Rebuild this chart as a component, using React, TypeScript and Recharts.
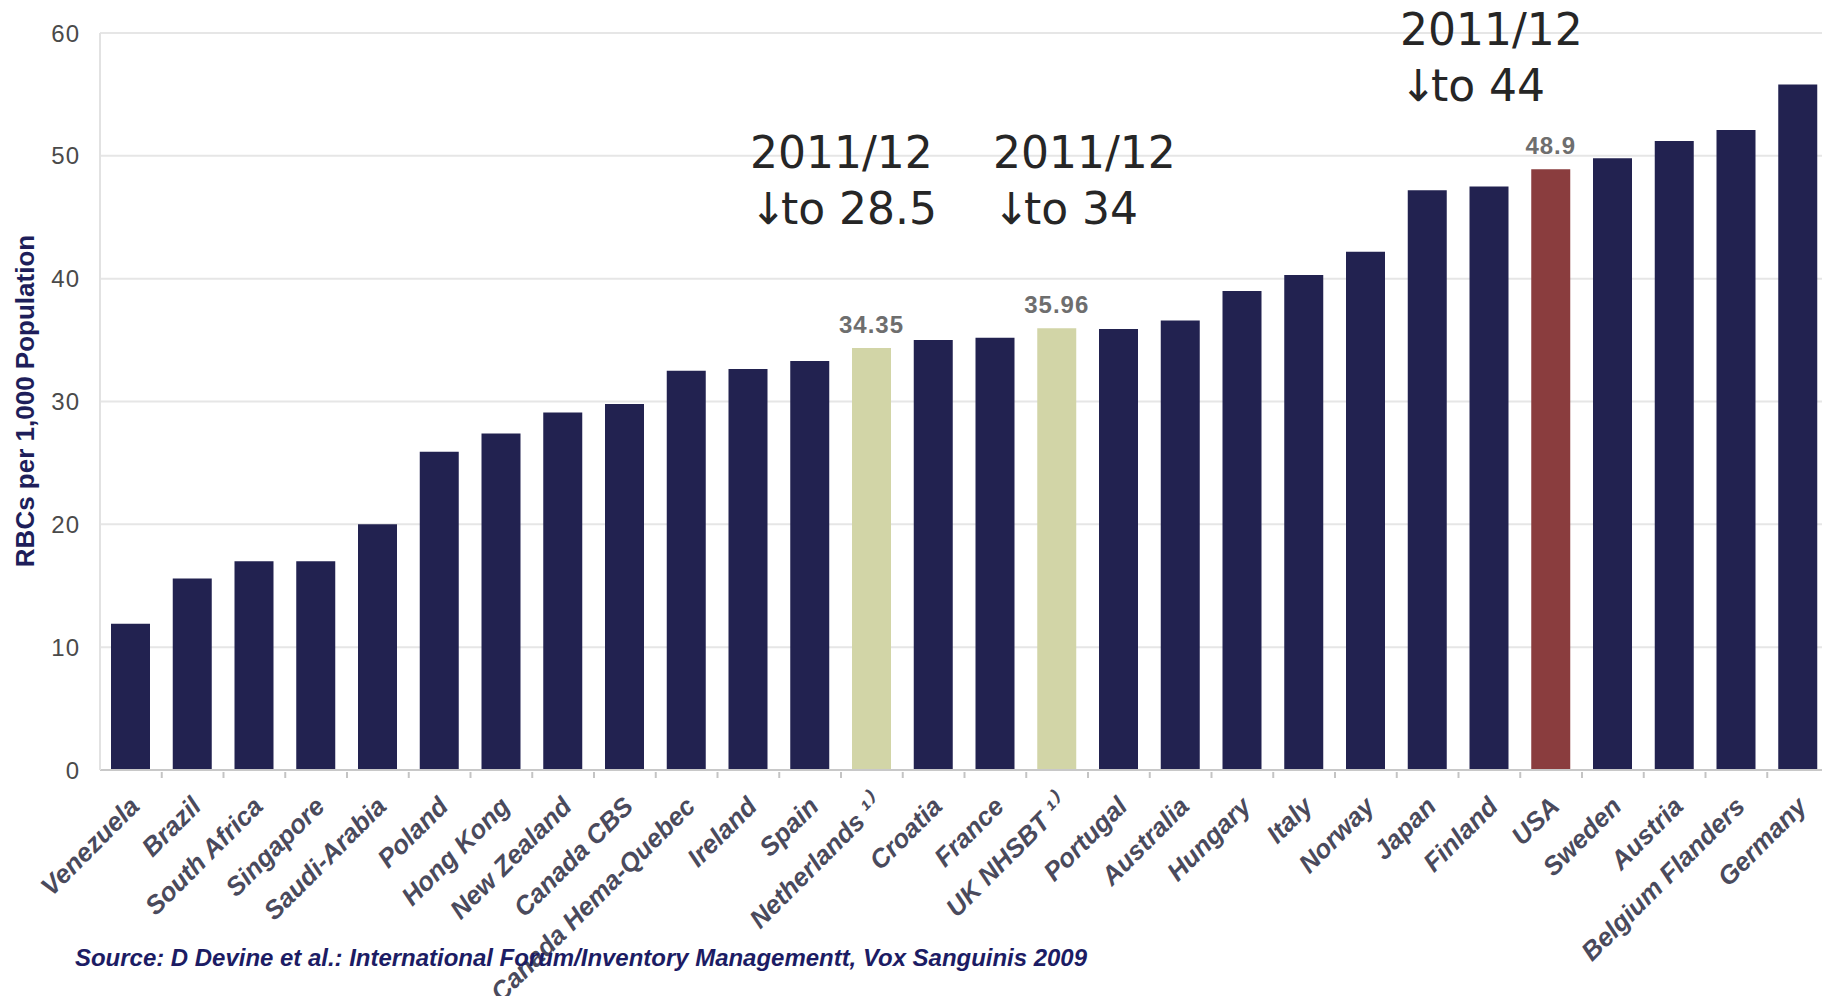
import { BarChart, Bar, XAxis, YAxis, CartesianGrid, Cell, LabelList } from "recharts";

const countries = [
  'Venezuela', 'Brazil', 'South Africa', 'Singapore', 'Saudi-Arabia', 'Poland', 'Hong Kong',
  'New Zealand', 'Canada CBS', 'Canada Hema-Quebec', 'Ireland', 'Spain', 'Netherlands ¹⁾',
  'Croatia', 'France', 'UK NHSBT ¹⁾', 'Portugal', 'Australia', 'Hungary', 'Italy', 'Norway',
  'Japan', 'Finland', 'USA', 'Sweden', 'Austria', 'Belgium Flanders', 'Germany'
];

const rbcsPer1000 = [
  11.9, 15.6, 17.0, 17.0, 20.0, 25.9, 27.4, 29.1, 29.8, 32.5, 32.65, 33.3, 34.35,
  35.0, 35.2, 35.96, 35.9, 36.6, 39.0, 40.3, 42.2, 47.2, 47.5, 48.9, 49.8, 51.2, 52.1, 55.8
];

const yTicks = [0, 10, 20, 30, 40, 50, 60];

// bars that get a value label and their own colour
const highlights: Record<string, string> = {
  'Netherlands ¹⁾': '#d2d5a7',
  'UK NHSBT ¹⁾': '#d2d5a7',
  'USA': '#8a3d3e',
};

const notes = [
  { year: '2011/12', change: 'to 28.5' },
  { year: '2011/12', change: 'to 34' },
  { year: '2011/12', change: 'to 44' },
];

const source = 'Source: D Devine et al.: International Forum/Inventory Managementt, Vox Sanguinis 2009';

const NAVY = '#222250';
const BAND = 61.75;

const data = countries.map((country, i) => ({
  country,
  value: rbcsPer1000[i],
  label: highlights[country] ? rbcsPer1000[i] : null,
}));

function CountryTick(props: any) {
  const { x, y, payload } = props;
  return (
    <g transform={`translate(${x},${y})`}>
      <line x1={BAND / 2} x2={BAND / 2} y1={0} y2={6} stroke="#c4c4c4" strokeWidth={2} />
      <text
        transform="translate(10,36) rotate(-45)"
        textAnchor="end"
        fontFamily="Liberation Sans, Arial, sans-serif"
        fontWeight="bold"
        fontStyle="italic"
        fontSize={26}
        fill="#4a4a5c"
      >
        {payload.value}
      </text>
    </g>
  );
}

function ValueLabel(props: any) {
  const { x, y, width, value } = props;
  if (value == null) return null;
  return (
    <text
      x={x + width / 2}
      y={y - 15}
      textAnchor="middle"
      fontFamily="Liberation Sans, Arial, sans-serif"
      fontWeight="bold"
      fontSize={24}
      letterSpacing={1}
      fill="#6e6e6e"
    >
      {value}
    </text>
  );
}

const noteStyle = { fontFamily: 'DejaVu Sans, sans-serif', fontSize: 44, fill: '#262626' };
const notePos = [
  { x: 750, y: 168 },
  { x: 993, y: 168 },
  { x: 1400, y: 45 },
];

export default function App() {
  return (
    <div style={{ position: 'fixed', left: 0, top: 0, width: 1822, height: 996, overflow: 'hidden', background: '#fff' }}>
      <BarChart
        width={1829}
        height={996}
        data={data}
        margin={{ top: 33, right: 0, bottom: 0, left: 0 }}
        barSize={39}
      >
        <CartesianGrid vertical={false} stroke="#e6e6e6" strokeWidth={2} />
        <XAxis
          dataKey="country"
          interval={0}
          height={226}
          tick={<CountryTick />}
          tickLine={false}
          tickSize={0}
          axisLine={{ stroke: '#c8c8c8', strokeWidth: 2 }}
        />
        <YAxis
          domain={[0, 60]}
          ticks={yTicks}
          width={100}
          tickLine={false}
          tickMargin={14}
          axisLine={{ stroke: '#e2e2e2', strokeWidth: 2 }}
          tick={{ fill: '#4a4a4a', fontSize: 24, letterSpacing: 1, fontFamily: 'Liberation Sans, Arial, sans-serif' }}
          label={{
            content: () => (
              <text
                transform="translate(25,401) rotate(-90)"
                textAnchor="middle"
                dominantBaseline="central"
                fontFamily="Liberation Sans, Arial, sans-serif"
                fontWeight="bold"
                fontSize={26}
                fill="#1e1e5a"
              >
                RBCs per 1,000 Population
              </text>
            ),
          }}
        />
        <Bar dataKey="value" isAnimationActive={false}>
          {data.map((d) => (
            <Cell key={d.country} fill={highlights[d.country] || NAVY} />
          ))}
          <LabelList dataKey="label" content={<ValueLabel />} />
        </Bar>
      </BarChart>

      <svg width={1822} height={996} style={{ position: 'absolute', left: 0, top: 0, pointerEvents: 'none' }}>
        {notes.map((n, i) => (
          <text key={i} x={notePos[i].x} y={notePos[i].y} style={noteStyle}>
            <tspan x={notePos[i].x}>{n.year}</tspan>
            <tspan x={notePos[i].x} dy={56}>↓</tspan>
            <tspan dx={-6}>{n.change}</tspan>
          </text>
        ))}
        <text
          x={75}
          y={966}
          textLength={1012}
          lengthAdjust="spacingAndGlyphs"
          fontFamily="Liberation Sans, Arial, sans-serif"
          fontWeight="bold"
          fontStyle="italic"
          fontSize={24}
          fill="#1c1c64"
        >
          {source}
        </text>
      </svg>
    </div>
  );
}
